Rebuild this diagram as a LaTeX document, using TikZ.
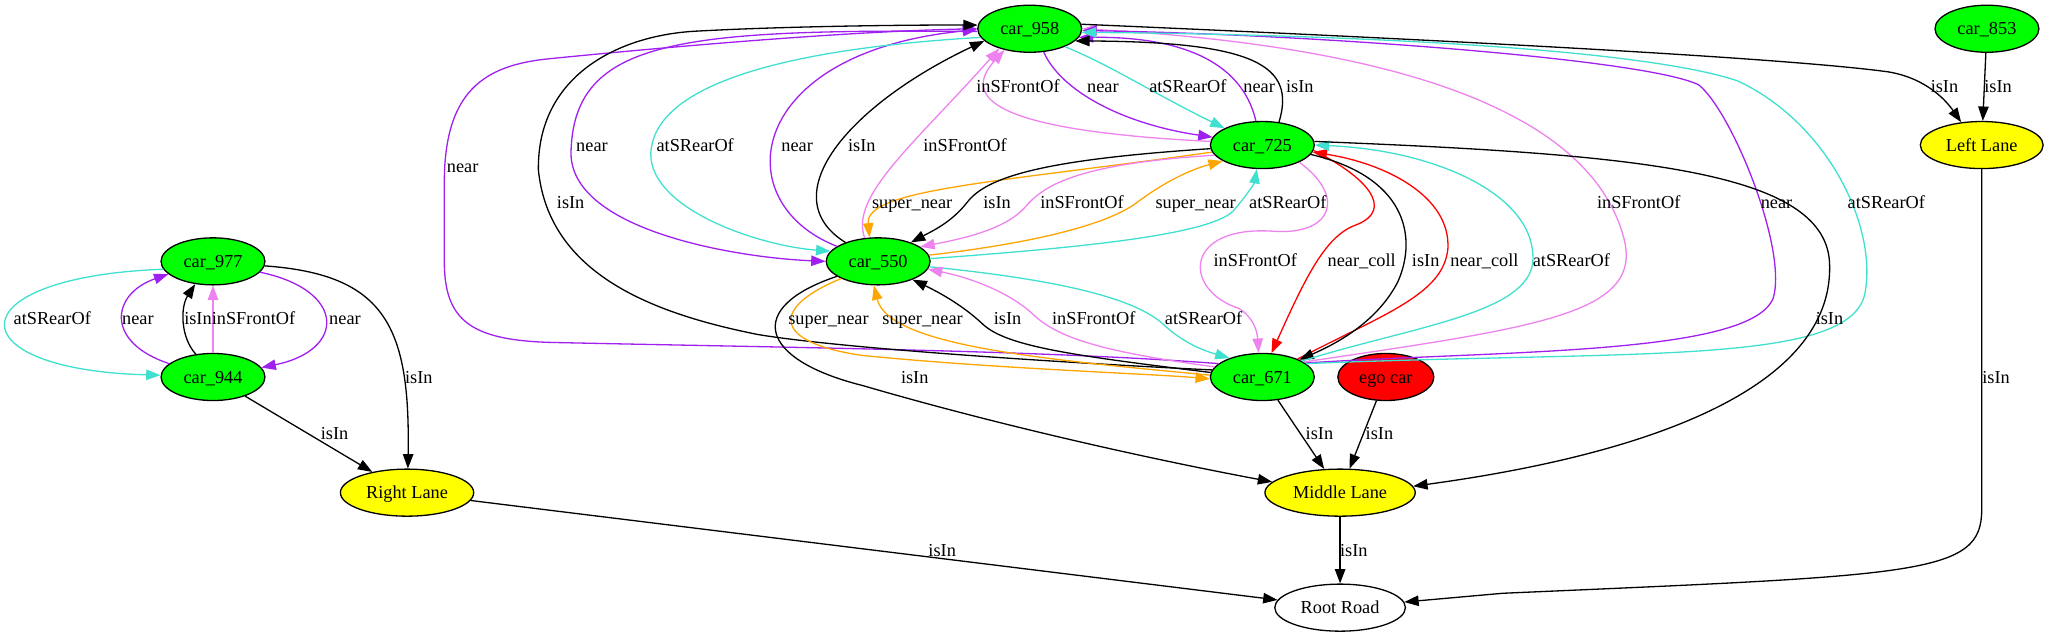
\documentclass[tikz,border=0pt]{standalone}
\usepackage{fontspec}
\setmainfont{Liberation Serif}
\usetikzlibrary{shapes.geometric,arrows.meta}
\definecolor{cpurple}{HTML}{A020F0}
\definecolor{cturq}{HTML}{40E0D0}
\definecolor{cviolet}{HTML}{EE82EE}
\definecolor{corange}{HTML}{FFA500}
\definecolor{cred}{HTML}{FF0000}
\definecolor{cgreen}{HTML}{00FF00}
\definecolor{cyellow}{HTML}{FFFF00}
\tikzset{
  gvfont/.style={font=\fontsize{14}{16}\selectfont, text height=9.4pt, text depth=0pt},
  gvnode/.style={ellipse, draw, line width=1pt, inner sep=0pt, minimum height=36pt, gvfont},
  car/.style={gvnode, fill=cgreen, minimum width=79.5pt},
  lane/.style={gvnode, fill=cyellow},
  edg/.style={line width=1pt, -{Triangle[length=11pt,width=8pt]}},
  lbl/.style={inner sep=0pt, gvfont}
}
\begin{document}
\begin{tikzpicture}[x=1pt, y=-1pt]
\useasboundingbox (0,0) rectangle (1568,489);
% nodes
\node[car] (c958) at (788,22) {car\_958};
\node[car] (c725) at (966,111) {car\_725};
\node[car] (c550) at (672,200) {car\_550};
\node[car] (c671) at (966,288.5) {car\_671};
\node[gvnode, fill=cred, minimum width=73.5pt] (ego) at (1060.5,288.5) {ego car};
\node[car] (c977) at (163,200) {car\_977};
\node[car] (c944) at (163,288.5) {car\_944};
\node[car] (c853) at (1520.5,22) {car\_853};
\node[lane, minimum width=102pt] (rl) at (311.5,377) {Right Lane};
\node[lane, minimum width=115pt] (ml) at (1025.5,377) {Middle Lane};
\node[lane, minimum width=94pt] (ll) at (1516.5,111) {Left Lane};
\node[gvnode, fill=white, minimum width=100pt] (rr) at (1025.5,465) {Root Road};

% left cluster
\draw[edg, cturq] (c977.189) .. controls (-35,212) and (-35,283) .. (c944.178);
\draw[edg, cpurple] (c944.163) .. controls (80,262) and (85,225) .. (c977.196);
\draw[edg] (c944.127) .. controls (138,258) and (138,235) .. (c977.232);
\draw[edg, cviolet] (c944.north) -- (c977.south);
\draw[edg, cpurple] (c977.347) .. controls (265,222) and (265,268) .. (c944.11);
\draw[edg] (c977.355) .. controls (295,210) and (314,250) .. (rl.88);
\draw[edg] (c944) -- (rl);
\draw[edg] (rl) -- (rr);

% car_958 relations
\draw[edg, cpurple] (c958.301) .. controls (812,70) and (860,95) .. (c725.171);
\draw[edg, cturq] (c958.333) .. controls (850,50) and (880,70) .. (c725.156);
\draw[edg, cviolet] (c725.176) .. controls (760,100) and (735,75) .. (c958.220);
\draw[edg, cpurple] (c725.105) .. controls (950,45) and (900,28) .. (c958.350);
\draw[edg] (c725.54) .. controls (992,50) and (960,32) .. (c958.345);
\draw[edg, cpurple] (c550.160) .. controls (555,155) and (570,40) .. (c958.181);
\draw[edg] (c550.150) .. controls (590,150) and (650,80) .. (c958.195);
\draw[edg, cviolet] (c550.120) .. controls (650,150) and (700,110) .. (c958.213);
\draw[edg, cpurple] (c958.183) .. controls (520,22) and (440,30) .. (437,115) .. controls (434,175) and (560,197) .. (c550.180);
\draw[edg, cturq] (c958.190) .. controls (640,35) and (500,55) .. (498,118) .. controls (498,160) and (580,188) .. (c550.168);
\draw[edg, cpurple] (c671.163) .. controls (800,268) and (600,266) .. (420,262) .. controls (360,260) and (340,245) .. (340,200) -- (340,140) .. controls (340,70) and (370,50) .. (420,45) .. controls (520,35) and (650,24) .. (c958.180);
\draw[edg] (c671.172) .. controls (800,277) and (640,266) .. (580,256) .. controls (500,240) and (420,210) .. (412,130) .. controls (411,60) and (470,28) .. (530,24) .. controls (600,20) and (700,19) .. (c958.176);
\draw[edg, cviolet] (c671.20) .. controls (1180,250) and (1260,240) .. (1242,180) .. controls (1225,120) and (1150,40) .. (c958.0);
\draw[edg, cpurple] (c671.18) .. controls (1150,268) and (1340,272) .. (1357,228) .. controls (1368,190) and (1325,85) .. (1300,65) .. controls (1260,45) and (1000,26) .. (c958.358);
\draw[edg, cturq] (c671.17) .. controls (1250,268) and (1415,280) .. (1427,225) .. controls (1437,175) and (1400,95) .. (1330,62) .. controls (1250,35) and (1000,26) .. (c958.356);
\draw[edg] (c958.5) .. controls (1000,26) and (1350,42) .. (1445,55) .. controls (1475,60) and (1490,78) .. (ll.132);
\draw[edg] (c853) -- (ll);
\draw[edg] (ll.south) -- (1516.5,390) .. controls (1516.5,440) and (1470,440) .. (1150,454) -- (rr.5);

% car_725 relations
\draw[edg, corange] (c725.188) .. controls (760,140) and (662,145) .. (c550.110);
\draw[edg] (c725.184) .. controls (800,122) and (755,135) .. (740,155) .. controls (728,170) and (715,176) .. (c550.30);
\draw[edg, cviolet] (c725.192) .. controls (830,125) and (800,140) .. (785,158) .. controls (770,175) and (740,182) .. (c550.19);
\draw[edg, corange] (c550.7) .. controls (800,185) and (850,170) .. (870,155) .. controls (890,140) and (910,130) .. (c725.202);
\draw[edg, cturq] (c550.3) .. controls (820,190) and (930,180) .. (945,160) .. controls (955,148) and (960,140) .. (c725.257);
\draw[edg, cviolet] (c725.335) .. controls (1030,150) and (1020,180) .. (975,177) .. controls (905,172) and (905,222) .. (948,236) .. controls (958,242) and (962,252) .. (c671.99);
\draw[edg, cred] (c725.354) .. controls (1045,135) and (1068,160) .. (1038,172) .. controls (1015,180) and (1000,210) .. (c671.69);
\draw[edg, cred] (c671.27) .. controls (1060,240) and (1105,225) .. (1108,190) .. controls (1110,150) and (1060,125) .. (c725.352);
\draw[edg] (c725.349) .. controls (1075,135) and (1085,180) .. (1070,215) .. controls (1055,245) and (1025,262) .. (c671.25);
\draw[edg, cturq] (c671.22) .. controls (1080,250) and (1170,240) .. (1173,200) .. controls (1176,150) and (1100,115) .. (c725.0);
\draw[edg] (c725.4) .. controls (1250,118) and (1395,130) .. (1400,200) .. controls (1405,290) and (1280,345) .. (ml.5);

% car_550 / car_671 relations
\draw[edg] (c550.200) .. controls (570,235) and (580,275) .. (660,295) .. controls (780,330) and (900,355) .. (ml.171);
\draw[edg, cturq] (c550.354) .. controls (820,215) and (870,230) .. (890,248) .. controls (905,262) and (920,268) .. (c671.150);
\draw[edg, cviolet] (c671.168) .. controls (850,270) and (810,260) .. (790,240) .. controls (770,222) and (740,212) .. (c550.351);
\draw[edg] (c671.175) .. controls (820,272) and (770,265) .. (752,248) .. controls (735,232) and (715,222) .. (c550.332);
\draw[edg, corange] (c671.178) .. controls (800,275) and (680,265) .. (c550.260);
\draw[edg, corange] (c550.205) .. controls (590,235) and (590,262) .. (660,272) .. controls (760,282) and (880,286) .. (c671.182);
\draw[edg] (c671) -- (ml);
\draw[edg] (ego) -- (ml);
\draw[edg] (ml) -- (rr);

% labels
\node[lbl] (t1) at (40,243.5) {atSRearOf};
\node[lbl] (t2) at (105.5,243.5) {near};
\node[lbl] (t3) at (151.5,243.5) {isIn};
\node[lbl] (t4) at (194,243.5) {inSFrontOf};
\node[lbl] (t5) at (264,243.5) {near};
\node[lbl] (t6) at (320.5,288.5) {isIn};
\node[lbl] (t7) at (256,332) {isIn};
\node[lbl] (t8) at (721,421) {isIn};
\node[lbl] (t9) at (779,66.3) {inSFrontOf};
\node[lbl] (t10) at (844,66.3) {near};
\node[lbl] (t11) at (909,66.3) {atSRearOf};
\node[lbl] (t12) at (963.6,66.3) {near};
\node[lbl] (t13) at (994.7,66.3) {isIn};
\node[lbl] (t14) at (1488,66.3) {isIn};
\node[lbl] (t15) at (1529,66.3) {isIn};
\node[lbl] (t16) at (453,111) {near};
\node[lbl] (t17) at (532,111) {atSRearOf};
\node[lbl] (t18) at (610,111) {near};
\node[lbl] (t19) at (659.5,111) {isIn};
\node[lbl] (t20) at (738.5,111) {inSFrontOf};
\node[lbl] (t21) at (354,127) {near};
\node[lbl] (t22) at (436.7,155) {isIn};
\node[lbl] (t23) at (698,155) {super\_near};
\node[lbl] (t24) at (763,155) {isIn};
\node[lbl] (t25) at (828,155) {inSFrontOf};
\node[lbl] (t26) at (915,155) {super\_near};
\node[lbl] (t27) at (985.5,155) {atSRearOf};
\node[lbl] (t28) at (1254,155) {inSFrontOf};
\node[lbl] (t29) at (1359.5,155) {near};
\node[lbl] (t30) at (1443.5,155) {atSRearOf};
\node[lbl] (t31) at (960.6,199) {inSFrontOf};
\node[lbl] (t32) at (1042,199) {near\_coll};
\node[lbl] (t33) at (1091,199) {isIn};
\node[lbl] (t34) at (1136,199) {near\_coll};
\node[lbl] (t35) at (1202.5,199) {atSRearOf};
\node[lbl] (t36) at (634,243.5) {super\_near};
\node[lbl] (t37) at (706,243.5) {super\_near};
\node[lbl] (t38) at (771,243.5) {isIn};
\node[lbl] (t39) at (837,243.5) {inSFrontOf};
\node[lbl] (t40) at (921,243.5) {atSRearOf};
\node[lbl] (t41) at (1400,243.5) {isIn};
\node[lbl] (t42) at (700,288.5) {isIn};
\node[lbl] (t43) at (1527.5,288.5) {isIn};
\node[lbl] (t44) at (1009.7,332) {isIn};
\node[lbl] (t45) at (1055.6,332) {isIn};
\node[lbl] (t46) at (1036,421) {isIn};
\end{tikzpicture}
\end{document}
